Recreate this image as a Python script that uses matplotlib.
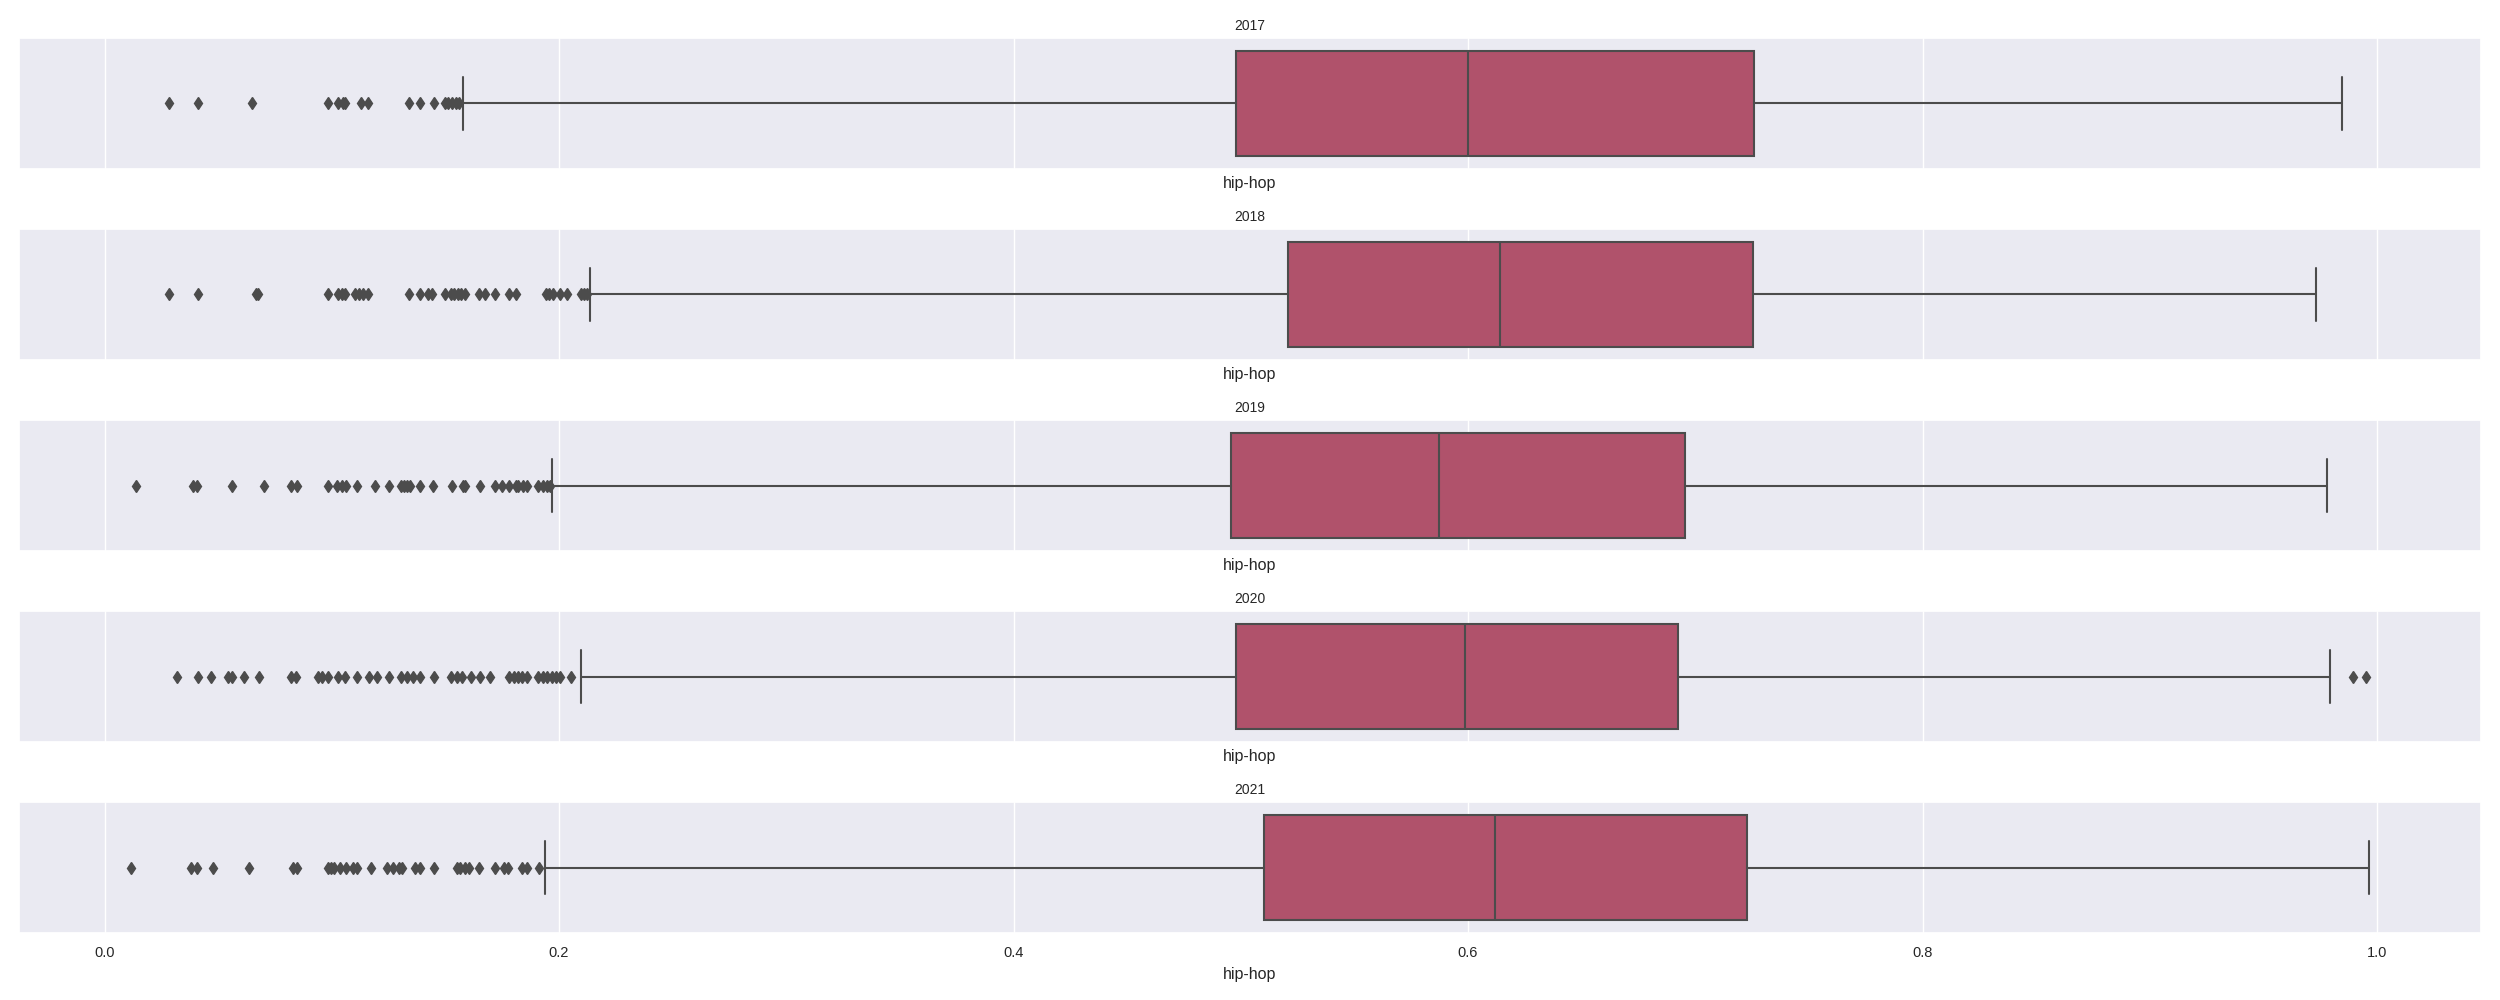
import matplotlib
matplotlib.use("Agg")
import matplotlib.pyplot as plt
import seaborn as sns

# values (hip-hop column, one box per year)
years = ["2017", "2018", "2019", "2020", "2021"]
q1 = [0.4978, 0.5207, 0.4956, 0.4978, 0.5103]
medians = [0.6000, 0.6140, 0.5874, 0.5986, 0.6118]
q3 = [0.7258, 0.7255, 0.6954, 0.6924, 0.7227]
whisker_low = [0.1576, 0.2136, 0.1969, 0.2097, 0.1938]
whisker_high = [0.9844, 0.9730, 0.9780, 0.9794, 0.9965]

fliers_2017 = [0.0283, 0.041, 0.0648, 0.0982, 0.1029, 0.105, 0.106, 0.1129, 0.1158,
               0.134, 0.1388, 0.145, 0.150, 0.151, 0.153, 0.1545, 0.156]
fliers_2018 = [0.0283, 0.041, 0.0667, 0.0677, 0.0982, 0.1029, 0.1044, 0.1058, 0.1103,
               0.1119, 0.1137, 0.116, 0.1341, 0.1388, 0.1423, 0.1441, 0.150, 0.1525,
               0.1539, 0.1555, 0.157, 0.1584, 0.1649, 0.1673, 0.1718, 0.178, 0.181,
               0.1942, 0.1957, 0.1973, 0.2006, 0.2036, 0.2095, 0.211, 0.2124]
fliers_2019 = [0.0137, 0.039, 0.0406, 0.0563, 0.0701, 0.0819, 0.0848, 0.0982, 0.1025,
               0.1044, 0.1064, 0.1109, 0.1188, 0.125, 0.1305, 0.1319, 0.1333, 0.1345,
               0.1388, 0.1447, 0.1531, 0.1578, 0.1588, 0.1653, 0.1718, 0.1751, 0.178,
               0.181, 0.182, 0.184, 0.1859, 0.1908, 0.1928, 0.1947, 0.1961]
fliers_2020 = [0.0318, 0.041, 0.0467, 0.0544, 0.0559, 0.0612, 0.0681, 0.0819, 0.0842,
               0.094, 0.0956, 0.0985, 0.1029, 0.1058, 0.1109, 0.1162, 0.1201, 0.125,
               0.1305, 0.1333, 0.1358, 0.1388, 0.1451, 0.1525, 0.1549, 0.1574, 0.1614,
               0.1653, 0.1698, 0.178, 0.18, 0.182, 0.1839, 0.1859, 0.1908, 0.1928,
               0.1947, 0.1967, 0.1987, 0.2006, 0.2051, 0.9893, 0.9953]
fliers_2021 = [0.0116, 0.0381, 0.0406, 0.0477, 0.0634, 0.0828, 0.0848, 0.0982, 0.0995,
               0.1011, 0.1035, 0.1064, 0.1093, 0.1109, 0.1172, 0.1241, 0.127, 0.1296,
               0.1309, 0.1364, 0.1388, 0.1451, 0.1549, 0.1565, 0.1584, 0.1604, 0.1649,
               0.1718, 0.1757, 0.1777, 0.1839, 0.1859, 0.1912]
fliers = [fliers_2017, fliers_2018, fliers_2019, fliers_2020, fliers_2021]

column = "hip-hop"
box_color = "#b0526b"
line_color = "#4c4c4c"

sns.set_theme(style="darkgrid")
plt.rcParams["font.family"] = ["Liberation Sans", "DejaVu Sans"]

fig, axes = plt.subplots(5, 1, figsize=(25, 10), dpi=100, sharex=True)
fig.subplots_adjust(left=0.0076, right=0.9924, top=0.962, bottom=0.067, hspace=0.46)

for i, ax in enumerate(axes):
    stats = [{
        "q1": q1[i], "med": medians[i], "q3": q3[i],
        "whislo": whisker_low[i], "whishi": whisker_high[i],
        "fliers": fliers[i],
    }]
    ax.bxp(stats, positions=[0], widths=0.8, vert=False, patch_artist=True,
           boxprops=dict(facecolor=box_color, edgecolor=line_color, linewidth=1.5),
           medianprops=dict(color=line_color, linewidth=1.5),
           whiskerprops=dict(color=line_color, linewidth=1.5),
           capprops=dict(color=line_color, linewidth=1.5),
           capwidths=0.4,
           flierprops=dict(marker="d", markerfacecolor=line_color,
                           markeredgecolor=line_color, markersize=6.5,
                           linestyle="none"))
    ax.set_ylim(0.5, -0.5)
    ax.set_yticks([])
    ax.set_title(years[i], fontsize=10)
    ax.set_xlabel(column, fontsize=11.5, labelpad=5)
    ax.xaxis.set_tick_params(labelbottom=(i == len(axes) - 1), labelsize=10.5)
    ax.set_xticks([0.0, 0.2, 0.4, 0.6, 0.8, 1.0])

fig.savefig("out.png")
